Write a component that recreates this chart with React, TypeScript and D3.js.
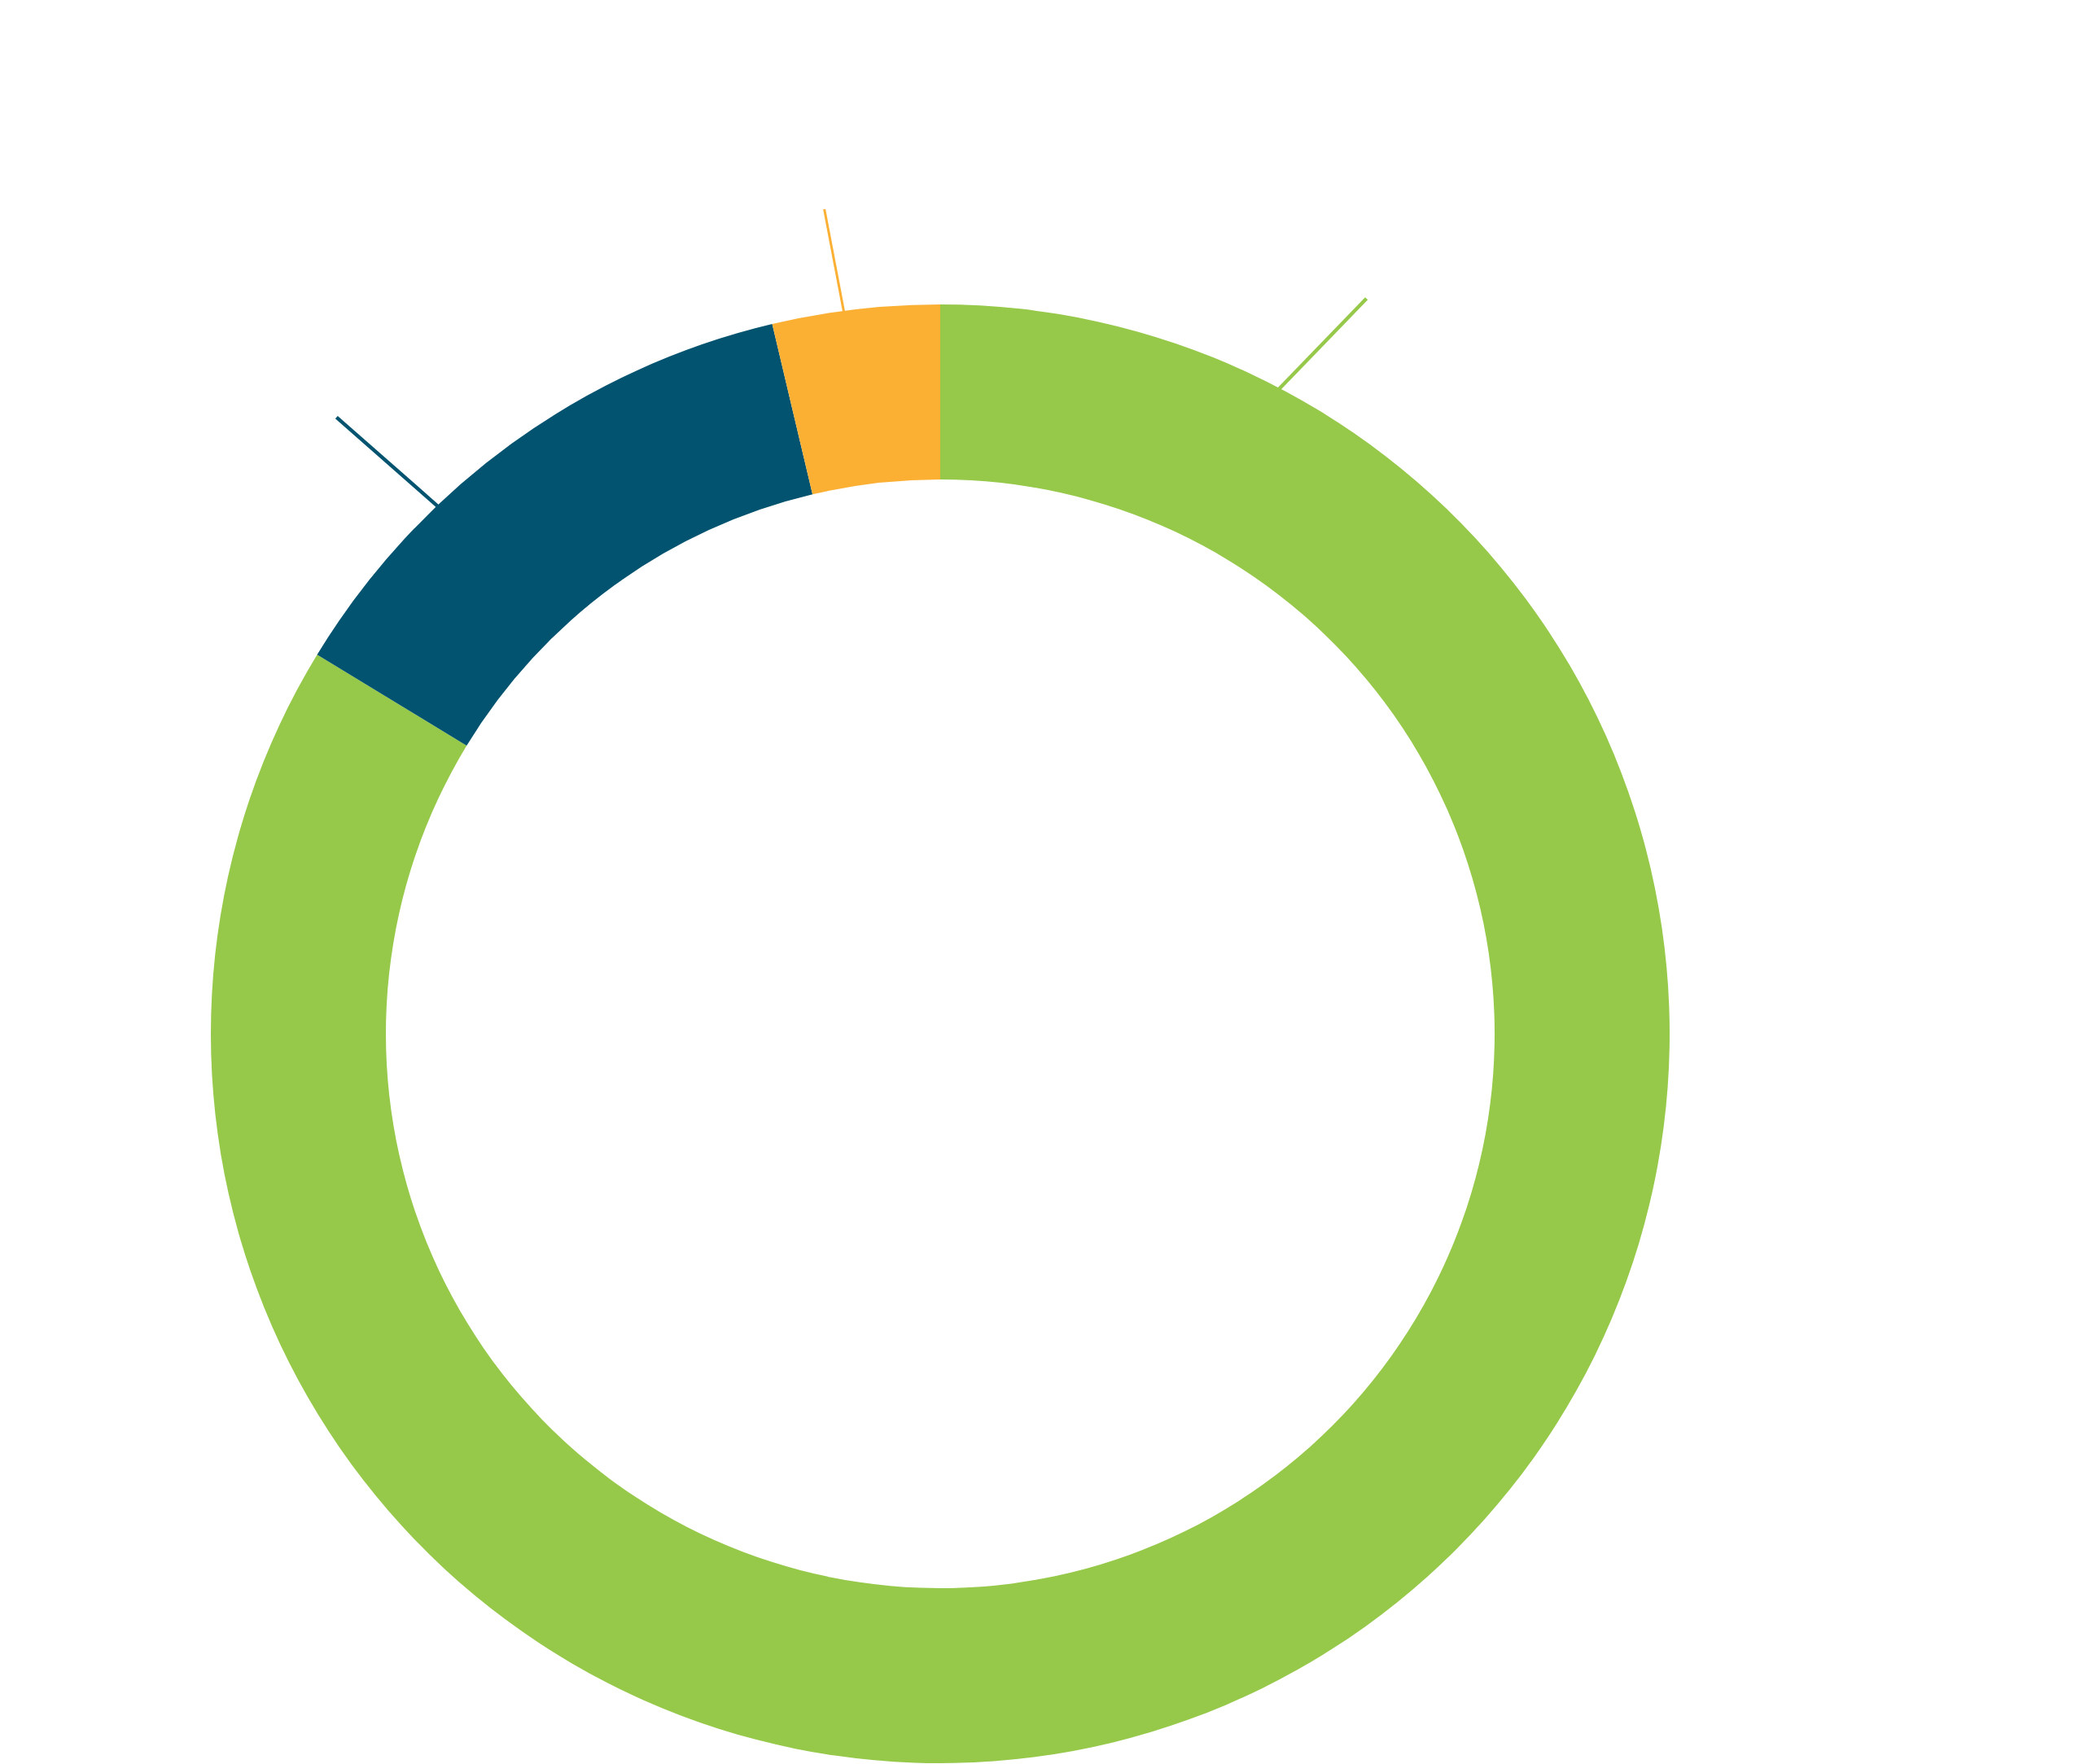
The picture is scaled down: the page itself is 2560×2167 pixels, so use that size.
import { useRef, useEffect, RefObject } from 'react';
import * as d3 from 'd3';

// slice data, clockwise from 12 o'clock
const categories: string[] = ['Green', 'Blue', 'Orange'];
const shares: number[] = [83.7, 12.6, 3.7];
const colors: string[] = ['#96c94a', '#01536f', '#fbb034'];

// leader line angles (degrees, clockwise from top)
const tickStartDeg: number[] = [27.7, -43.6, -7.6];
const tickEndDeg: number[] = [30.1, -44.4, -8.0];
const tickLengths: number[] = [148, 164, 127];
const tickWidths: number[] = [4.5, 4.5, 3];

const DonutChart = () => {
  const svgRef: RefObject<SVGSVGElement> = useRef(null);

  useEffect(() => {
    const width = 2560;
    const height = 2167;
    const cx = 1155;
    const cy = 1270;
    const outer = 896;
    const inner = 681;

    const svg = d3
      .select(svgRef.current)
      .attr('width', width)
      .attr('height', height)
      .attr('viewBox', [0, 0, width, height])
      .style('display', 'block')
      .style('background', '#fff');

    svg.selectAll('*').remove();

    const rows = categories.map((name, i) => ({ name, value: shares[i], i }));

    const pie = d3
      .pie<{ name: string; value: number; i: number }>()
      .value((d) => d.value)
      .sort(null);

    const arc = d3
      .arc<d3.PieArcDatum<{ name: string; value: number; i: number }>>()
      .innerRadius(inner)
      .outerRadius(outer);

    const g = svg.append('g').attr('transform', `translate(${cx},${cy})`);

    g.append('g')
      .selectAll('path')
      .data(pie(rows))
      .join('path')
      .attr('fill', (d) => colors[d.data.i])
      .attr('d', arc);

    // leader lines (labels are blank in the source)
    const rad = Math.PI / 180;
    const start = (i: number) => d3.pointRadial(tickStartDeg[i] * rad, outer - 2);
    const end = (i: number) => d3.pointRadial(tickEndDeg[i] * rad, outer + tickLengths[i]);
    g.append('g')
      .selectAll('line')
      .data(rows)
      .join('line')
      .attr('stroke', (d) => colors[d.i])
      .attr('stroke-width', (d) => tickWidths[d.i])
      .attr('x1', (d) => start(d.i)[0])
      .attr('y1', (d) => start(d.i)[1])
      .attr('x2', (d) => end(d.i)[0])
      .attr('y2', (d) => end(d.i)[1]);
  }, []);

  return <svg ref={svgRef}></svg>;
};

export default function App() {
  useEffect(() => {
    document.body.style.margin = '0';
  }, []);
  return <DonutChart />;
}
